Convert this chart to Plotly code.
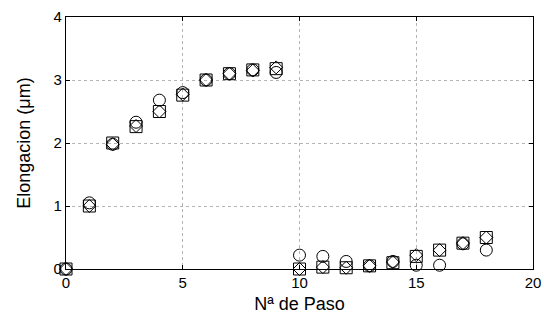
import plotly.graph_objects as go

pasos = list(range(19))
circulos = [0.0, 1.05, 1.98, 2.33, 2.68, 2.80, 3.0, 3.1, 3.16, 3.12,
            0.22, 0.20, 0.12, 0.05, 0.12, 0.06, 0.06, 0.40, 0.30]
cuadrados = [0.0, 1.0, 2.0, 2.26, 2.50, 2.76, 3.0, 3.1, 3.16, 3.18,
             0.0, 0.03, 0.02, 0.05, 0.10, 0.20, 0.30, 0.41, 0.50]
rombos = [0.0, 1.0, 1.98, 2.27, 2.50, 2.77, 3.0, 3.1, 3.15, 3.20,
          0.0, 0.03, 0.02, 0.05, 0.11, 0.22, 0.30, 0.41, 0.50]

fig = go.Figure()
for ys, sym, size in [(cuadrados, "square-open", 12),
                      (rombos, "diamond-open", 10),
                      (circulos, "circle-open", 12)]:
    fig.add_trace(go.Scatter(x=pasos, y=ys, mode="markers",
                             marker=dict(symbol=sym, size=size, color="black",
                                         line=dict(width=1, color="black")),
                             showlegend=False, cliponaxis=False))

axis_common = dict(showline=True, linecolor="black", linewidth=1.3, mirror="allticks",
                   ticks="inside", ticklen=4, tickcolor="black", automargin=False,
                   showgrid=True, gridcolor="#b4b4b4", griddash="dot", gridwidth=1,
                   zeroline=False, tickfont=dict(family="Liberation Sans, Arial", size=15, color="black"))

fig.update_layout(
    width=544, height=324,
    margin=dict(l=66, r=11, t=17, b=55),
    plot_bgcolor="white", paper_bgcolor="white",
    font=dict(family="Liberation Sans, Arial", size=15, color="black"),
    xaxis=dict(range=[0, 20], dtick=5, title=dict(text="Nª de Paso", standoff=7), **axis_common),
    yaxis=dict(range=[0, 4], dtick=1, title=dict(text="Elongacion (μm)", standoff=18), **axis_common),
)
fig.write_html("out.html", config={"displayModeBar": False},
               post_script="document.body.style.margin='0';document.body.style.overflow='hidden';")
